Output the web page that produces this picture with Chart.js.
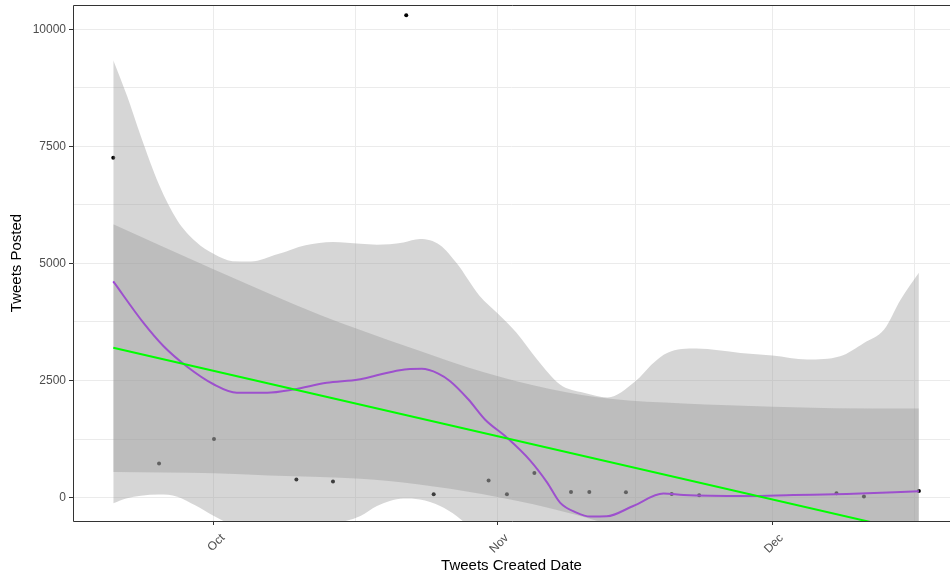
<!DOCTYPE html>
<html>
<head>
<meta charset="utf-8">
<title>Tweets Posted</title>
<script src="https://cdn.jsdelivr.net/npm/chart.js@4.4.1/dist/chart.umd.min.js"></script>
<style>
  html, body { margin: 0; padding: 0; background: #ffffff; }
  #wrap { width: 950px; height: 576px; }
</style>
</head>
<body>
<div id="wrap"><canvas id="tweetsChart" width="950" height="576"></canvas></div>
<script>
// x values are days counted from Oct 1 (Nov 1 = 31, Dec 1 = 61)
const pointDays = [-11, -6, 0, 9, 13, 21, 24, 30, 32, 35, 39, 41, 45, 50, 53, 68, 71, 77];
const tweetCounts = [7260, 730, 1250, 385, 345, 10300, 70, 365, 70, 525, 120, 120, 115, 75, 50, 95, 25, 140];

// loess smooth (purple) and its confidence band
const loessDays = [-11, -7.7, -5.5, -3, 0, 2.5, 5.8, 8.7, 12.3, 15.8, 17.4, 20.3, 22.7, 24.5, 25.8, 27.8, 29.6, 32, 34.5, 36.4, 37.8, 39.6, 41.1, 42.9, 45.8, 49.1, 51.3, 58.2, 63.3, 69.1, 77];
const loessFit = [4616, 3730, 3231, 2805, 2415, 2238, 2238, 2308, 2451, 2521, 2592, 2720, 2749, 2649, 2486, 2095, 1669, 1280, 800, 320, -107, -320, -405, -400, -179, 85, 55, 34, 55, 77, 134];

const loessBandDays = [-11, -9.5, -8, -6, -4, -2, 0, 2, 4, 7, 10, 13, 16, 17.8, 19.2, 20.7, 22.5, 24.7, 26.5, 29, 31, 33, 35.3, 37.8, 40.4, 43, 46, 48, 49.5, 52.7, 57.5, 61, 64.8, 68.4, 71, 73.2, 75, 77];
const loessUpper = [9341, 8580, 7720, 6680, 5920, 5470, 5200, 5050, 5040, 5200, 5390, 5460, 5420, 5400, 5410, 5450, 5520, 5390, 5008, 4310, 3930, 3530, 2950, 2415, 2238, 2140, 2480, 2877, 3090, 3182, 3090, 3033, 2948, 3018, 3303, 3591, 4226, 4800];
const loessLower = [-122, -15, 40, 64, 20, -170, -392, -560, -570, -680, -640, -560, -392, -179, -72, -21, -40, -180, -392, -800, -940, -1100, -1550, -2400, -2900, -2900, -2700, -2800, -2930, -3080, -3050, -2970, -2850, -2880, -3100, -3400, -4000, -4530];

// linear fit (green) and its confidence band
const lmDays = [-11, 77];
const lmFit = [3200, -760];
const lmBandDays = [-11, 0, 6, 11.6, 16, 22.2, 29.4, 36.7, 43.3, 51.3, 61.1, 67.7, 77];
const lmUpper = [5840, 4870, 4360, 3900, 3580, 3150, 2680, 2320, 2110, 2010, 1940, 1910, 1900];
const lmLower = [546, 518, 470, 440, 400, 284, 70, -230, -590, -1240, -2000, -2560, -3430];

// axis ticks
const monthTickDays = [0, 31, 61];
const monthLabels = ["Oct", "Nov", "Dec"];
const minorDayTicks = [15.5, 46, 76.5];
const yMajorTicks = [0, 2500, 5000, 7500, 10000];
const yMinorTicks = [1250, 3750, 6250, 8750];

const fontFamily = "'Liberation Sans', Arial, sans-serif";
const bandFill = "rgba(153, 153, 153, 0.4)";
const clear = "rgba(0, 0, 0, 0)";

function toXY(xs, ys) {
  return xs.map((x, i) => ({ x: x, y: ys[i] }));
}

const xTicks = monthTickDays.concat(minorDayTicks).sort((a, b) => a - b);
const yTicks = yMajorTicks.concat(yMinorTicks).sort((a, b) => a - b);

const panelBorder = {
  id: "panelBorder",
  afterDraw(chart) {
    const { ctx, chartArea: a } = chart;
    ctx.save();
    ctx.strokeStyle = "#333333";
    ctx.lineWidth = 1;
    ctx.beginPath();
    ctx.moveTo(a.right + 2, a.top + 0.5);
    ctx.lineTo(a.left + 0.5, a.top + 0.5);
    ctx.lineTo(a.left + 0.5, a.bottom + 0.5);
    ctx.lineTo(a.right + 2, a.bottom + 0.5);
    ctx.stroke();
    ctx.restore();
  }
};

Chart.defaults.font.family = fontFamily;

const ctx = document.getElementById("tweetsChart").getContext("2d");

new Chart(ctx, {
  type: "line",
  data: {
    datasets: [
      {
        label: "Linear fit",
        data: toXY(lmDays, lmFit),
        borderColor: "#00ff00",
        borderWidth: 2,
        pointRadius: 0,
        fill: false,
      },
      {
        label: "Linear upper",
        data: toXY(lmBandDays, lmUpper),
        borderColor: clear,
        borderWidth: 0,
        pointRadius: 0,
        backgroundColor: bandFill,
        fill: "+1",
        cubicInterpolationMode: "monotone",
      },
      {
        label: "Linear lower",
        data: toXY(lmBandDays, lmLower),
        borderColor: clear,
        borderWidth: 0,
        pointRadius: 0,
        fill: false,
        cubicInterpolationMode: "monotone",
      },
      {
        label: "Loess fit",
        data: toXY(loessDays, loessFit),
        borderColor: "#a020f0",
        borderWidth: 2,
        pointRadius: 0,
        fill: false,
        cubicInterpolationMode: "monotone",
      },
      {
        label: "Loess upper",
        data: toXY(loessBandDays, loessUpper),
        borderColor: clear,
        borderWidth: 0,
        pointRadius: 0,
        backgroundColor: bandFill,
        fill: "+1",
        cubicInterpolationMode: "monotone",
      },
      {
        label: "Loess lower",
        data: toXY(loessBandDays, loessLower),
        borderColor: clear,
        borderWidth: 0,
        pointRadius: 0,
        fill: false,
        cubicInterpolationMode: "monotone",
      },
      {
        label: "Tweets",
        data: toXY(pointDays, tweetCounts),
        showLine: false,
        pointRadius: 2,
        pointBackgroundColor: "#000000",
        pointBorderColor: "#000000",
        pointBorderWidth: 0,
      },
    ],
  },
  options: {
    responsive: false,
    animation: false,
    events: [],
    layout: {
      autoPadding: false,
      padding: { top: 5, right: 0, bottom: 0, left: 0 },
    },
    plugins: {
      legend: { display: false },
      tooltip: { enabled: false },
    },
    scales: {
      x: {
        type: "linear",
        min: -15.4,
        max: 80.4,
        afterBuildTicks: function (axis) {
          axis.ticks = xTicks.map((v) => ({ value: v }));
        },
        afterFit: function (axis) {
          axis.height = 55;
          axis.paddingLeft = 0;
          axis.paddingRight = 0;
        },
        border: { display: false },
        grid: {
          color: "#ebebeb",
          lineWidth: 1,
          tickLength: 4,
          tickColor: (c) => (monthTickDays.includes(c.tick.value) ? "#333333" : clear),
        },
        ticks: {
          autoSkip: false,
          minRotation: 45,
          maxRotation: 45,
          padding: 6,
          labelOffset: 9,
          color: "#4d4d4d",
          font: { size: 12 },
          callback: function (value) {
            const i = monthTickDays.indexOf(value);
            return i >= 0 ? monthLabels[i] : "";
          },
        },
        title: {
          display: true,
          text: "Tweets Created Date",
          color: "#000000",
          font: { size: 15 },
          padding: { top: 0, bottom: 1 },
        },
      },
      y: {
        type: "linear",
        min: -500,
        max: 10520,
        afterBuildTicks: function (axis) {
          axis.ticks = yTicks.map((v) => ({ value: v }));
        },
        afterFit: function (axis) {
          axis.width = 73;
          axis.paddingTop = 0;
          axis.paddingBottom = 0;
        },
        border: { display: false },
        grid: {
          color: "#ebebeb",
          lineWidth: 1,
          tickLength: 4,
          tickColor: (c) => (yMajorTicks.includes(c.tick.value) ? "#333333" : clear),
        },
        ticks: {
          padding: 3,
          color: "#4d4d4d",
          font: { size: 12 },
          callback: function (value) {
            return yMajorTicks.includes(value) ? String(value) : "";
          },
        },
        title: {
          display: true,
          text: "Tweets Posted",
          color: "#000000",
          font: { size: 15 },
          padding: { top: 7.5, bottom: 0 },
        },
      },
    },
  },
  plugins: [panelBorder],
});
</script>
</body>
</html>
